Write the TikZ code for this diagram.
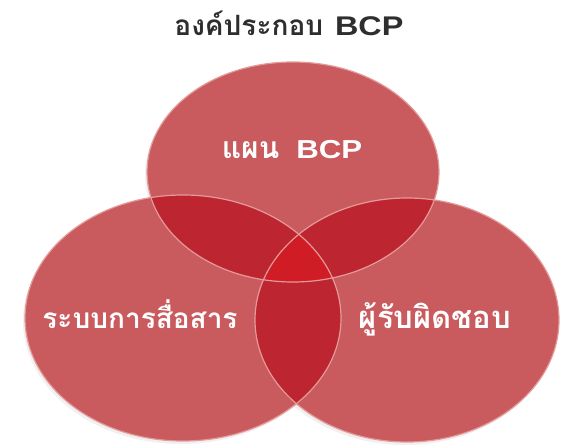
\documentclass[tikz,border=0pt]{standalone}
\usepackage{fontspec}
\newfontfamily\thaifont[Script=Thai]{Loma}
\newfontfamily\latinfont[FakeStretch=1.2]{Liberation Sans}
\definecolor{vsingle}{HTML}{C95A5E}
\definecolor{vdouble}{HTML}{BD2530}
\definecolor{vtriple}{HTML}{D01C24}
\definecolor{vrim}{HTML}{E59A9A}
\definecolor{titlegray}{HTML}{2E2E2E}
\tikzset{
  titletext/.style={text=titlegray, inner sep=0pt, anchor=base},
  labeltext/.style={text=white, inner sep=0pt, anchor=base},
  rimline/.style={draw=vrim, line width=1.2pt},
}
\newcommand{\thaiat}[2]{{\thaifont\bfseries\fontsize{#1}{#1}\selectfont #2}}
\newcommand{\latat}[2]{{\latinfont\bfseries\fontsize{#1}{#1}\selectfont #2}}
\def\topE{(293,172) ellipse [x radius=146pt, y radius=110pt]}
\def\leftE{(183,318) ellipse [x radius=158pt, y radius=123pt]}
\def\rightE{(407,320) ellipse [x radius=152pt, y radius=122pt]}
\begin{document}
\begin{tikzpicture}[x=1pt,y=-1pt]
\useasboundingbox (0,0) rectangle (566,447);
\fill[white] (0,0) rectangle (566,447);
% soft shadows
\begin{scope}[shift={(-2,3)}]
\fill[black,opacity=0.06] \topE;
\fill[black,opacity=0.06] \leftE;
\fill[black,opacity=0.06] \rightE;
\end{scope}
% single fills
\fill[vsingle] \topE;
\fill[vsingle] \leftE;
\fill[vsingle] \rightE;
% double overlaps
\begin{scope}\clip \topE; \fill[vdouble] \leftE; \fill[vdouble] \rightE;\end{scope}
\begin{scope}\clip \leftE; \fill[vdouble] \rightE;\end{scope}
% triple overlap
\begin{scope}\clip \topE; \clip \leftE; \fill[vtriple] \rightE;\end{scope}
% rims
\draw[rimline] \topE;
\draw[rimline] \leftE;
\draw[rimline] \rightE;
% texts
\node[titletext] (title) at (289,35) {\thaiat{28pt}{องค์ประกอบ}\hspace{12pt}\latat{27pt}{BCP}};
\node[labeltext] (plan) at (292,158) {\thaiat{30pt}{แผน}\hspace{17pt}\latat{26pt}{BCP}};
\node[labeltext] (comm) at (140,328) {\thaiat{28pt}{ระบบการสื่อสาร}};
\node[labeltext] (resp) at (435,328) {\thaiat{31pt}{ผู้รับผิดชอบ}};
\end{tikzpicture}
\end{document}
